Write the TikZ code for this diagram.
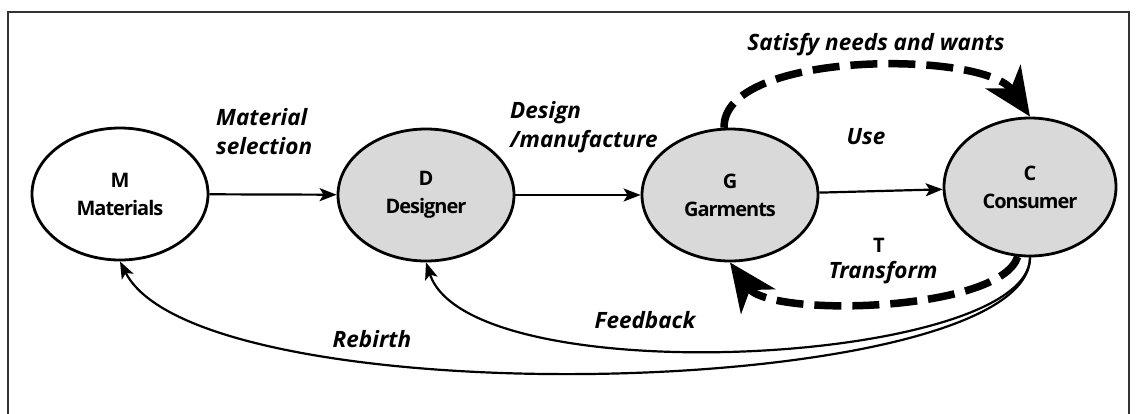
\documentclass[tikz,border=0pt]{standalone}
\usepackage{fontspec}
\setmainfont{Open Sans}
\newfontfamily\statefamily[LetterSpace=-5]{Open Sans}
\usetikzlibrary{arrows.meta,shapes.geometric}

\newcommand{\statefont}{\statefamily\bfseries\fontsize{20}{28}\selectfont}
\newcommand{\labelfont}{\fontsize{22.5}{29}\selectfont\bfseries\itshape}

\begin{document}
\begin{tikzpicture}[x=1pt,y=-1pt,
  state/.style={ellipse, draw=black, line width=2.8pt, fill=white,
    minimum width=176pt, minimum height=132pt, inner sep=0pt,
    align=center, font=\statefont},
  shaded/.style={state, fill=black!15},
  flow/.style={line width=2.2pt, -{Stealth[length=17pt,width=13pt,inset=4pt]}},
  cycle/.style={line width=7.5pt, dash pattern=on 27pt off 11pt,
    -{Stealth[length=48pt,width=42pt,inset=14pt]}},
  lbl/.style={font=\labelfont, inner sep=0pt, align=left},
  frame/.style={line width=1.2pt, draw=black!80}]

\useasboundingbox (0,0) rectangle (1138,413);
\draw[frame] (8,420) -- (8,12) -- (1129,12) -- (1129,420);

% the four stages
\node[state]  (M) at (120,194) {M\\Materials};
\node[shaded] (D) at (426,195) {D\\Designer};
\node[shaded] (G) at (730,195) {G\\Garments};
\node[shaded, minimum width=172pt, minimum height=138pt] (C) at (1030,187) {C\\Consumer};

% forward chain
\draw[flow] (M) -- (D);
\draw[flow] (D) -- (G);
\draw[flow] (G) -- (C);

% loops between garments and consumer
\draw[cycle] (G.95) .. controls (722,50) and (985,50) .. (C.north);
\draw[cycle] (C.-100) .. controls (1000,312) and (770,318) .. (G.south);

% return paths from the consumer
\draw[flow] (C.south) .. controls (1030,365) and (470,395) .. (D.south);
\draw[flow] (C.south) .. controls (1030,400) and (200,420) .. (M.south);

% labels
\node[lbl, anchor=west] (lsel) at (216,132) {Material\\selection};
\node[lbl, anchor=west] (lman) at (510,127) {Design\\/manufacture};
\node[lbl] (luse) at (866,137) {Use};
\node[lbl] (lsat) at (876,45) {Satisfy needs and wants};
\node[font=\statefont, inner sep=0pt] (lt) at (879,245) {T};
\node[lbl] (ltr) at (883,273) {Transform};
\node[lbl] (lfb) at (645,320) {Feedback};
\node[lbl] (lrb) at (372,339) {Rebirth};
\end{tikzpicture}
\end{document}
